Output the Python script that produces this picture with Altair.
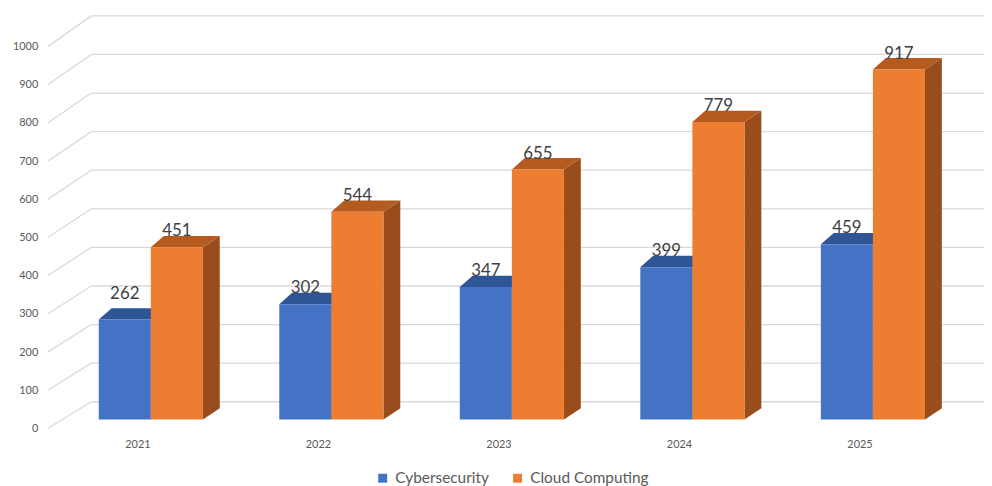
import altair as alt
import pandas as pd

# ---------------- data ----------------
years = ["2021", "2022", "2023", "2024", "2025"]
series = ["Cybersecurity", "Cloud Computing"]
cyber = [262, 302, 347, 399, 459]
cloud = [451, 544, 655, 779, 917]
y_ticks = [0, 100, 200, 300, 400, 500, 600, 700, 800, 900, 1000]

# ---------------- style / geometry ----------------
front_colors = ["#4472C4", "#ED7D31"]
top_colors = ["#2F5597", "#B65B1F"]
side_colors = ["#2B4E8C", "#9A4D1C"]
GRID = "#D9D9D9"
TXT = "#595959"

PLOT_W, PLOT_H = 944, 470
PX_PER_CAT = 182.0          # px per category step
PX_PER_VAL = 0.385          # px per value unit (front plane)
PX_PER_VAL_BACK = 0.389     # px per value unit (back wall, perspective)
WALL_DX, WALL_DY = 44, 27   # back wall shift in px
BAR_W = 52.5 / PX_PER_CAT   # bar width in category units
DXL = 13 / PX_PER_CAT       # depth shift (back-left)
DXR = 17 / PX_PER_CAT       # depth shift (back-right)
DY = 11.5 / PX_PER_VAL      # depth rise in value units
X0 = -0.5
X1 = X0 + PLOT_W / PX_PER_CAT
Y_TOP = 422 / PX_PER_VAL
Y_BOT = -(PLOT_H - 422) / PX_PER_VAL
label_lift = {(0, 0): 10}   # manually raised label (px)
BAR_SHIFT = dict(xOffset=13, x2Offset=13, yOffset=-9, y2Offset=-9)

# ---------------- tables ----------------
fronts, tops, sides, labels = [], [], [], []
for i, yr in enumerate(years):
    for s, vals in enumerate([cyber, cloud]):
        v = vals[i]
        left = i - BAR_W if s == 0 else i
        right = left + BAR_W
        fid = f"{yr}-{s}"
        fronts.append(dict(x=left, x2=right, v=v, zero=0, series=series[s]))
        tops.append(dict(fid=fid, y=v, xa=left, xb=right, fill=top_colors[s]))
        tops.append(dict(fid=fid, y=v + DY, xa=left + DXL, xb=right + DXR, fill=top_colors[s]))
        sides.append(dict(fid=fid, x=right, yt=v, yb=0, fill=side_colors[s]))
        sides.append(dict(fid=fid, x=right + DXR, yt=v + DY, yb=DY, fill=side_colors[s]))
        lift = label_lift.get((i, s), 0) / PX_PER_VAL
        labels.append(dict(xc=(left + right) / 2, yl=v + lift, v=v))

df_front = pd.DataFrame(fronts)
df_top = pd.DataFrame(tops)
df_side = pd.DataFrame(sides)
df_lab = pd.DataFrame(labels)
df_grid = pd.DataFrame({
    "v": y_ticks,
    "vb": [(WALL_DY + PX_PER_VAL_BACK * t) / PX_PER_VAL for t in y_ticks],
    "x0": X0,
})
df_years = pd.DataFrame({"i": list(range(len(years))), "year": years, "zero": 0})

xs = alt.Scale(domain=[X0, X1], nice=False, zero=False)
ys = alt.Scale(domain=[Y_BOT, Y_TOP], nice=False, zero=False)
yax = alt.Axis(values=y_ticks, title=None, domain=False, ticks=False, grid=False, format="d",
               labelFontSize=11, labelColor=TXT, labelFont="Lato", labelPadding=10)

# back-wall gridlines
wall = alt.Chart(df_grid).mark_rule(color=GRID, strokeWidth=1.3, xOffset=WALL_DX).encode(
    x=alt.X("x0:Q", scale=xs, axis=None),
    x2=alt.value(PLOT_W),
    y=alt.Y("vb:Q", scale=ys, axis=yax),
)
# diagonal floor/side-wall lines
diag = alt.Chart(df_grid).mark_rule(color=GRID, strokeWidth=1.3, x2Offset=WALL_DX).encode(
    x=alt.X("x0:Q", scale=xs, axis=None),
    x2="x0:Q",
    y=alt.Y("v:Q", scale=ys, axis=yax),
    y2="vb:Q",
)

side_layer = alt.Chart(df_side).mark_area(orient="vertical", **BAR_SHIFT).encode(
    x=alt.X("x:Q", scale=xs, axis=None),
    y=alt.Y("yt:Q", scale=ys, axis=yax, stack=None),
    y2="yb:Q",
    detail="fid:N",
    color=alt.Color("fill:N", scale=None),
)

top_layer = alt.Chart(df_top).mark_area(orient="horizontal", **BAR_SHIFT).encode(
    y=alt.Y("y:Q", scale=ys, axis=yax),
    x=alt.X("xa:Q", scale=xs, axis=None, stack=None),
    x2="xb:Q",
    detail="fid:N",
    color=alt.Color("fill:N", scale=None),
)

front_layer = alt.Chart(df_front).mark_bar(**BAR_SHIFT).encode(
    x=alt.X("x:Q", scale=xs, axis=None),
    x2="x2:Q",
    y=alt.Y("v:Q", scale=ys, axis=yax),
    y2="zero:Q",
    fill=alt.Fill(
        "series:N",
        sort=series,
        scale=alt.Scale(domain=series, range=front_colors),
        legend=alt.Legend(
            orient="none", legendX=330, legendY=464, direction="horizontal", title=None,
            symbolType="square", symbolSize=81, symbolStrokeWidth=0,
            labelFontSize=15.5, labelFont="Lato", labelColor=TXT,
            labelOffset=5, columnPadding=21, padding=0,
        ),
    ),
)

label_layer = alt.Chart(df_lab).mark_text(
    dx=13, dy=-20, fontSize=17, font="Lato", color="#404040", baseline="alphabetic", align="center"
).encode(
    x=alt.X("xc:Q", scale=xs, axis=None),
    y=alt.Y("yl:Q", scale=ys, axis=yax),
    text="v:Q",
)

year_layer = alt.Chart(df_years).mark_text(
    dy=17, fontSize=11, font="Lato", color=TXT, baseline="middle", align="center"
).encode(
    x=alt.X("i:Q", scale=xs, axis=None),
    y=alt.Y("zero:Q", scale=ys, axis=yax),
    text="year:N",
)

chart = (
    alt.layer(wall, diag, side_layer, top_layer, front_layer, label_layer, year_layer)
    .properties(
        width=PLOT_W, height=PLOT_H,
        autosize=alt.AutoSizeParams(type="none"),
        padding={"left": 40, "top": 0, "right": 0, "bottom": 8},
        background="white",
    )
    .configure_view(stroke=None)
)

chart.save("out.html", embed_options={"renderer": "svg", "actions": False})
